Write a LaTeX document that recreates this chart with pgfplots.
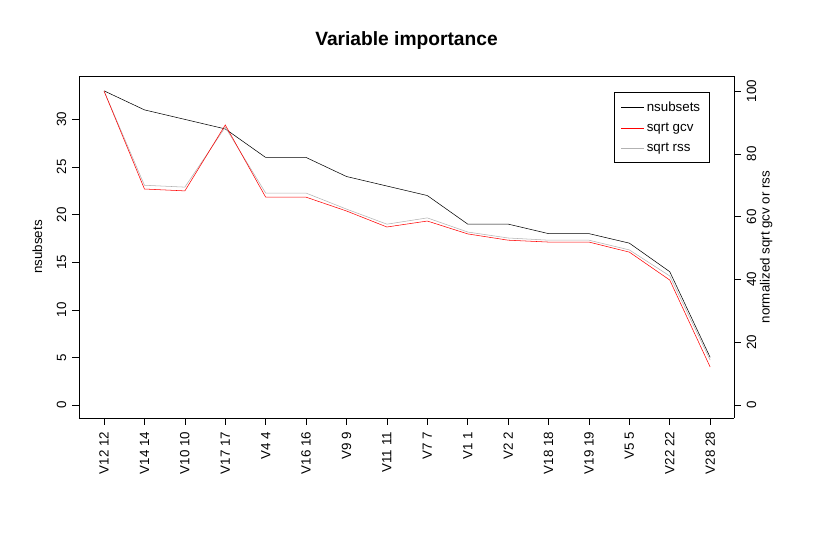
\documentclass[border=0pt]{standalone}
\usepackage{pgfplots}
\pgfplotsset{compat=1.18}
\usepackage{fontspec}
\setmainfont{Liberation Sans}
\begin{document}
\begin{tikzpicture}
\path[use as bounding box] (0,0) rectangle (624.75pt,406.5pt);
\pgfplotsset{every axis/.style={
  at={(59.25pt,93pt)}, anchor=south west, scale only axis,
  width=491.25pt, height=256.5pt,
  xmin=-0.62, xmax=15.59,
  tick align=outside, major tick length=5pt,
  tick style={black, thin},
  /pgf/number format/assume math mode=true,
  ticklabel style={font=\normalsize},
}}
\begin{axis}[
  ymin=-1.37, ymax=34.56,
  axis y line*=left, axis x line*=box, xtick pos=bottom,
  xtick={0,...,15},
  xticklabels={V12 12,V14 14,V10 10,V17 17,V4 4,V16 16,V9 9,V11 11,V7 7,V1 1,V2 2,V18 18,V19 19,V5 5,V22 22,V28 28},
  xticklabel style={rotate=90, anchor=east, xshift=-2pt},
  ytick={0,5,...,30},
  yticklabel style={rotate=90, anchor=south, yshift=1pt},
  ylabel={nsubsets}, ylabel style={font=\normalsize, yshift=4pt},
  title={\textbf{Variable importance}}, title style={font=\Large, yshift=10pt},
  legend style={at={(0.963,0.953)}, anchor=north east, font=\normalsize, draw=black, inner sep=5pt, cells={anchor=west}, row sep=3pt},
  legend cell align=left,
]
\addplot[black, thin] coordinates {(0,33)(1,31)(2,30)(3,29)(4,26)(5,26)(6,24)(7,23)(8,22)(9,19)(10,19)(11,18)(12,18)(13,17)(14,14)(15,5)};
\addlegendentry{nsubsets}
\addlegendimage{red, thin}\addlegendentry{sqrt gcv}
\addlegendimage{gray!60, thin}\addlegendentry{sqrt rss}
\end{axis}
\begin{axis}[
  ymin=-4.14, ymax=104.8,
  axis y line*=right, axis x line=none,
  ytick={0,20,...,100},
  yticklabel style={rotate=90, anchor=north, yshift=-1pt},
  ylabel={normalized sqrt gcv or rss}, ylabel style={font=\normalsize, rotate=0, yshift=4pt},
]
\addplot[gray!60, thin] coordinates {(0,100)(1,70)(2,69.4)(3,88.5)(4,67.5)(5,67.5)(6,62.4)(7,57.6)(8,59.6)(9,55.1)(10,53.2)(11,52.5)(12,52.5)(13,49.4)(14,41.1)(15,14.3)};
\addplot[red, thin] coordinates {(0,100)(1,68.8)(2,68.2)(3,89.2)(4,66.2)(5,66.2)(6,61.8)(7,56.7)(8,58.6)(9,54.5)(10,52.5)(11,51.9)(12,51.9)(13,48.7)(14,39.8)(15,12.1)};
\end{axis}
\end{tikzpicture}
\end{document}
